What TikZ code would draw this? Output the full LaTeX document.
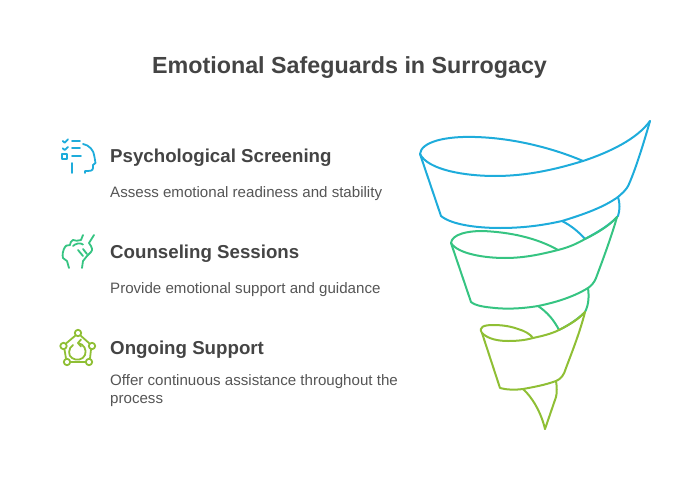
\documentclass[tikz,border=0pt]{standalone}
\usepackage{fontspec}
\setmainfont{Liberation Sans}
\definecolor{txtgray}{HTML}{444444}
\definecolor{subgray}{HTML}{555555}
\definecolor{skyblue}{HTML}{1EACDB}
\definecolor{leafgreen}{HTML}{36C482}
\definecolor{olivegreen}{HTML}{8FBF35}
\tikzset{
  titletext/.style={text=txtgray, font=\bfseries\fontsize{23.3}{28}\selectfont, inner sep=0pt},
  headtext/.style={text=txtgray, font=\bfseries\fontsize{18.7}{23}\selectfont, anchor=west, inner sep=0pt},
  bodytext/.style={text=subgray, font=\fontsize{15.1}{18}\selectfont, anchor=north west, inner sep=0pt, align=left},
  funnel/.style={line width=2pt, line join=round, line cap=round},
  iconline/.style={line width=1.8pt, line join=round, line cap=round}
}
\begin{document}
\begin{tikzpicture}[x=1pt,y=-1pt]
     \useasboundingbox (0,0) rectangle (698,492);
     \node[titletext] (title) at (349.5,67.5) {Emotional Safeguards in Surrogacy};
     \node[headtext] (headA) at (110,158) {Psychological Screening};
     \node[bodytext] (bodyA) at (110,186) {Assess emotional readiness and stability};
     \node[headtext] (headB) at (110,254) {Counseling Sessions};
     \node[bodytext] (bodyB) at (110,282) {Provide emotional support and guidance};
     \node[headtext] (headC) at (110,350) {Ongoing Support};
     \node[bodytext] (bodyC) at (110,374) {Offer continuous assistance throughout the\\process};
     % funnel top
     \draw[funnel, skyblue] (420,154) .. controls (421,142) and (445,136) .. (475,137) .. controls (515,138) and (555,149) .. (583,161);
     \draw[funnel, skyblue] (420,154) .. controls (428,170) and (465,176) .. (495,176) .. controls (530,176) and (560,168) .. (583,161) .. controls (610,152) and (637,139) .. (650,121);
     \draw[funnel, skyblue] (650,121) .. controls (644,142) and (636,168) .. (629,184) .. controls (626,191) and (621,194) .. (618,197) .. controls (604,207) and (585,214) .. (562,221) .. controls (540,226) and (520,228) .. (500,228) .. controls (478,228) and (452,225) .. (441,216) -- (420,154);
     \draw[funnel, skyblue] (618,197) .. controls (620,203) and (620,210) .. (618,216) .. controls (610,225) and (598,232) .. (585,239);
     \draw[funnel, skyblue] (562,221) .. controls (570,225) and (578,231) .. (585,239);
     % funnel middle
     \draw[funnel, leafgreen] (451,243) .. controls (452,234) and (468,231) .. (482,231) .. controls (510,232) and (537,238) .. (558,250);
     \draw[funnel, leafgreen] (451,243) .. controls (458,254) and (485,258) .. (505,258) .. controls (525,258) and (542,254) .. (558,250) .. controls (570,247) and (578,243) .. (585,239) .. controls (597,233) and (609,226) .. (617,217);
     \draw[funnel, leafgreen] (617,217) .. controls (611,238) and (602,262) .. (596,278) .. controls (594,283) and (591,286) .. (588,288) .. controls (575,296) and (558,302) .. (538,306) .. controls (520,309) and (505,309) .. (495,308) .. controls (485,307) and (476,306) .. (471,302) -- (451,243);
     \draw[funnel, leafgreen] (588,288) .. controls (589,296) and (589,304) .. (585,312) .. controls (578,319) and (569,325) .. (559,330);
     \draw[funnel, leafgreen] (538,306) .. controls (547,312) and (554,320) .. (559,330);
     % funnel bottom
     \draw[funnel, olivegreen] (482,333) .. controls (478,327) and (484,325) .. (493,325) .. controls (501,325) and (510,326) .. (518,329) .. controls (525,331) and (530,334) .. (533,338);
     \draw[funnel, olivegreen] (482,333) .. controls (488,339) and (498,341) .. (508,341) .. controls (518,341) and (526,340) .. (533,338) .. controls (542,336) and (551,334) .. (559,330) .. controls (569,325) and (579,319) .. (585,312);
     \draw[funnel, olivegreen] (585,312) .. controls (580,332) and (572,352) .. (566,368) .. controls (564,375) and (561,379) .. (556,381) .. controls (545,385) and (534,387) .. (523,389) .. controls (515,390) and (507,390) .. (500,388) -- (482,333);
     \draw[funnel, olivegreen] (556,381) .. controls (557,387) and (557,393) .. (556,397) -- (545,429);
     \draw[funnel, olivegreen] (523,389) .. controls (532,397) and (541,412) .. (545,429);
     % screening icon
     \draw[iconline, skyblue] (62.7,141) -- (64.7,142.7) -- (68,139.3);
     \draw[iconline, skyblue] (62.7,148.3) -- (64.7,150) -- (68,147);
     \draw[iconline, skyblue] (62,154) rectangle (67,159);
     \draw[iconline, skyblue] (72,141) -- (80,141);
     \draw[iconline, skyblue] (72,148.3) -- (80,148.3);
     \draw[iconline, skyblue] (72,156.3) -- (81,156.3);
     \draw[iconline, skyblue] (83,144) .. controls (89,145) and (94,150) .. (94.5,157) -- (95.5,163) -- (93,165) -- (93,168) .. controls (93,171) and (90,171) .. (85,171) -- (85,173);
     \draw[iconline, skyblue] (72,163) -- (72,173);
     % counseling icon
     \draw[iconline, leafgreen] (83,235) -- (81,240) .. controls (78,241) and (75,241) .. (73,240) .. controls (71,241) and (70,243) .. (70,245) .. controls (67,245) and (65,246) .. (65,247) .. controls (63,250) and (62,255) .. (63,258) -- (67,261) -- (69,268);
     \draw[iconline, leafgreen] (73,246) .. controls (75,244) and (80,242) .. (83,244.5);
     \draw[iconline, leafgreen] (94,235) -- (89,243) .. controls (92,247) and (93,250) .. (91,252) -- (87,256) -- (83,261) -- (82,268);
     \draw[iconline, leafgreen] (78,250) -- (83,256);
     \draw[iconline, leafgreen] (83,249) -- (87,254);
     % support icon
     \draw[iconline, olivegreen] (78,333) circle (3.2pt);
     \draw[iconline, olivegreen] (63.5,346) circle (3.2pt);
     \draw[iconline, olivegreen] (92,346) circle (3.2pt);
     \draw[iconline, olivegreen] (67,362) circle (3.2pt);
     \draw[iconline, olivegreen] (89,362) circle (3.2pt);
     \draw[iconline, olivegreen] (75.5,335.5) -- (66,343.5);
     \draw[iconline, olivegreen] (80.5,335.5) -- (89.5,343.5);
     \draw[iconline, olivegreen] (64.5,349.5) -- (66,358.5);
     \draw[iconline, olivegreen] (91,349.5) -- (90,358.5);
     \draw[iconline, olivegreen] (70.5,362) -- (85.5,362);
     \draw[iconline, olivegreen] (73,345) .. controls (68,348) and (68,356) .. (72,358) .. controls (76,361) and (83,360) .. (85,355) .. controls (87,350) and (84,344) .. (78,343);
     \draw[iconline, olivegreen] (81,339.5) -- (78,343) -- (81,346.5);
\end{tikzpicture}
\end{document}
